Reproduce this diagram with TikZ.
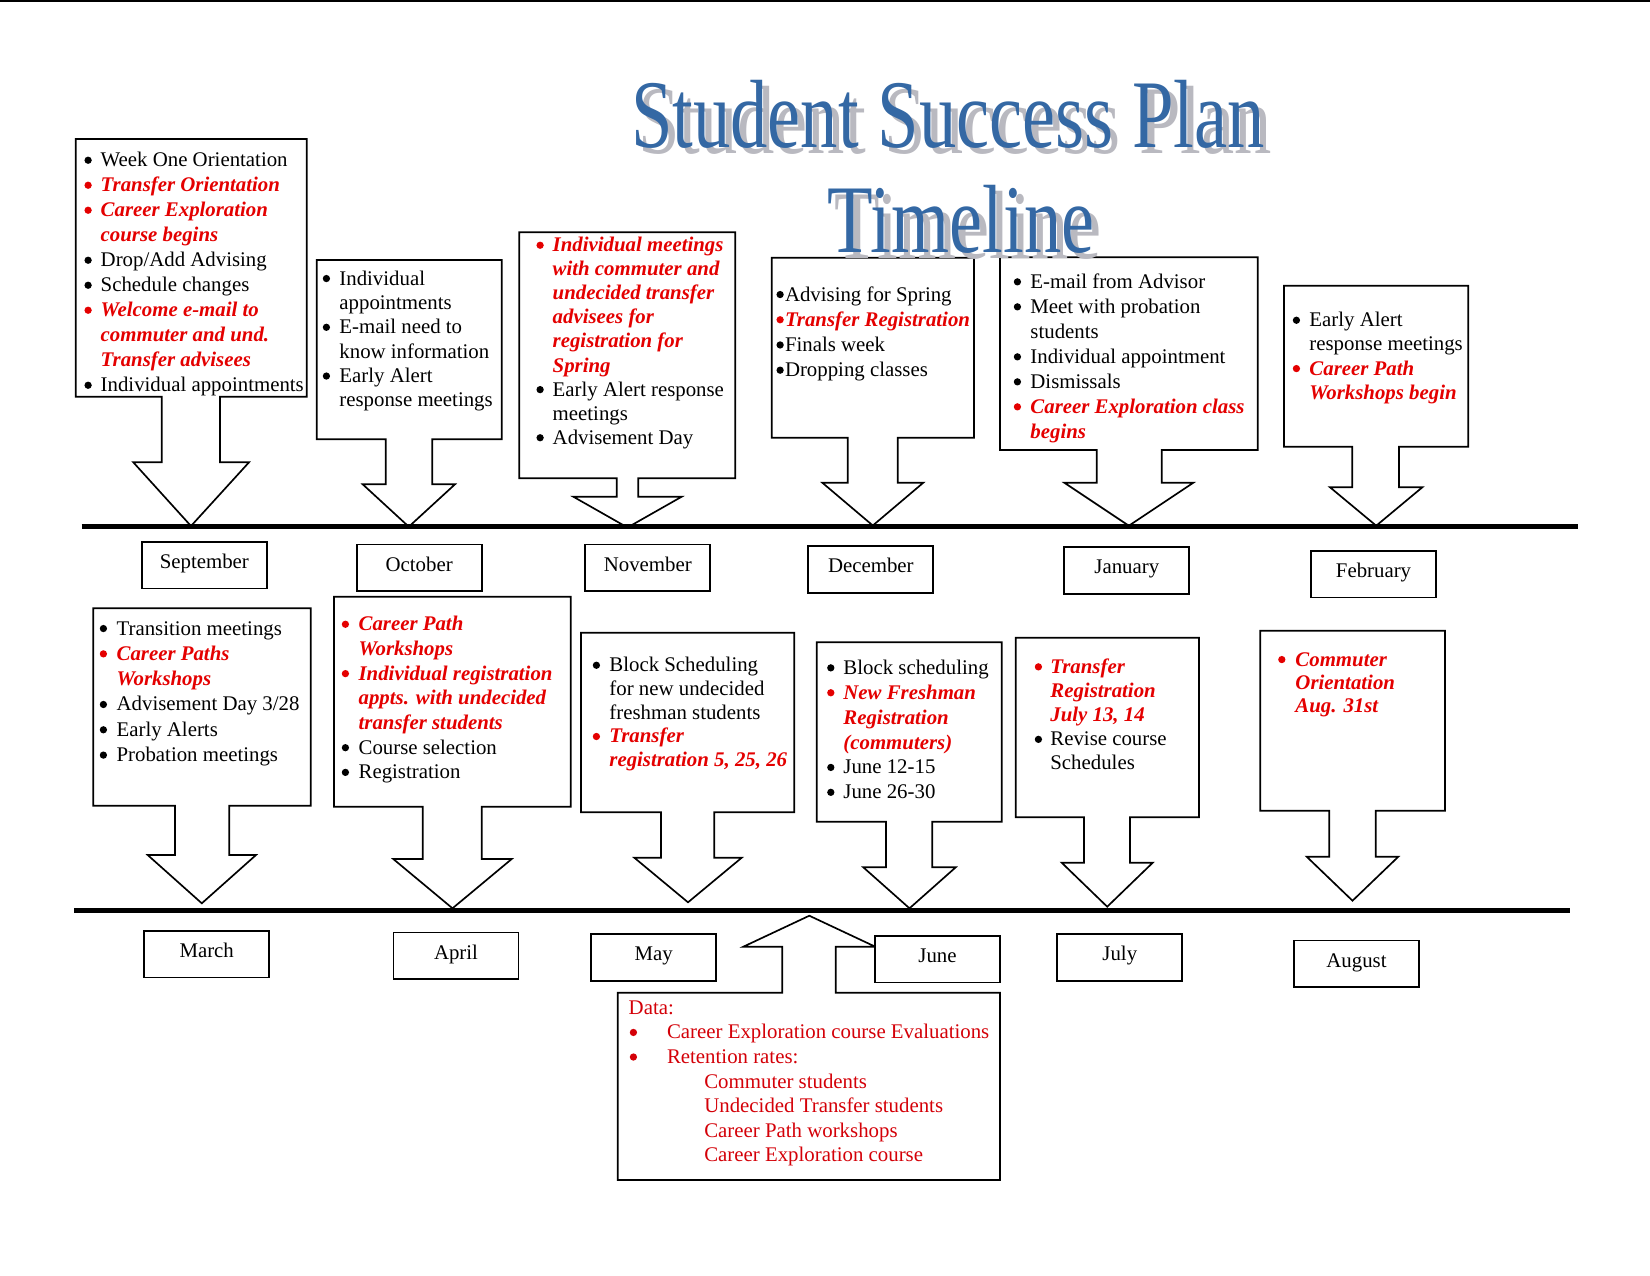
\documentclass[tikz,border=0pt]{standalone}
\usepackage{fontspec}
\setmainfont{Liberation Serif}
\usepackage{graphicx}
\definecolor{rd}{RGB}{228,0,0}
\definecolor{rdd}{RGB}{212,0,8}
\definecolor{ttlblue}{RGB}{52,104,164}
\definecolor{ttlshadow}{RGB}{185,185,192}
\newlength\hw
\newcommand\bul[1][black]{\hspace*{0.5pt}\tikz[baseline=0pt]\fill[#1] (1.75pt,3.1pt) circle[radius=1.75pt];}
\newcommand\R[1]{\textcolor{rd}{\bfseries\itshape #1}}
\newcommand\B[1]{\makebox[\hw][l]{\bul}#1}
\newcommand\RB[1]{\makebox[\hw][l]{\bul[rd]}\R{#1}}
\newcommand\DB[1]{\makebox[\hw][l]{\bul[rdd]}#1}
\newcommand\C[1]{\hspace*{\hw}#1}
\newcommand\RC[1]{\hspace*{\hw}\R{#1}}
\newcommand\tb[2]{\setlength\hw{#1}\begin{tabular}[t]{@{}l@{}}#2\end{tabular}}
\tikzset{
 callout/.style={draw=black,line width=0.8pt,fill=white,line join=miter},
 bodytext/.style={anchor=base west,inner sep=0pt,font=\fontsize{10}{#1}\selectfont},
 monthbox/.style={draw=black,line width=0.8pt,fill=white,inner sep=0pt,minimum width=60pt,minimum height=22.3pt,text height=7pt,text depth=3.8pt,font=\fontsize{10}{12}\selectfont},
 timeline/.style={line width=2.25pt},
 titletext/.style={anchor=base,inner sep=0pt,font=\fontsize{35.8}{40}\selectfont},
}
\begin{document}
\begin{tikzpicture}[x=0.48pt,y=-0.48pt]
\useasboundingbox (0,0) rectangle (1650,1275);
\fill[white] (0,0) rectangle (1650,1275);
% top frame line
\coordinate (fa) at (0,1); \coordinate (fb) at (1650,1);
\draw[line width=0.9pt] (fa) -- (fb);

% ---- top callouts
\draw[callout] (75.7,139) -- (306.7,139) -- (306.7,396.7) -- (220,396.7) -- (220,462.3) -- (249,462.3) -- (191,526) -- (133.3,462.3) -- (161.7,462.3) -- (161.7,396.7) -- (75.7,396.7) -- cycle;
\draw[callout] (316.7,260) -- (501.7,260) -- (501.7,439.3) -- (432.3,439.3) -- (432.3,484.3) -- (455,484.3) -- (408.8,526.7) -- (362.7,484.3) -- (385.7,484.3) -- (385.7,439.3) -- (316.7,439.3) -- cycle;
\draw[callout] (519.3,232.3) -- (735.3,232.3) -- (735.3,478.3) -- (638.3,478.3) -- (638.3,496.7) -- (681.7,496.7) -- (627.5,527.5) -- (573.3,496.7) -- (616.7,496.7) -- (616.7,478.3) -- (519.3,478.3) -- cycle;
\draw[callout] (771.7,257.7) -- (974,257.7) -- (974,437.7) -- (897.7,437.7) -- (897.7,482.7) -- (923.3,482.7) -- (872.8,525.5) -- (822.3,482.7) -- (847.7,482.7) -- (847.7,437.7) -- (771.7,437.7) -- cycle;
\draw[callout] (1000,257.3) -- (1257.7,257.3) -- (1257.7,450) -- (1161.7,450) -- (1161.7,482.7) -- (1193.3,482.7) -- (1128.8,525.7) -- (1064.3,482.7) -- (1096.7,482.7) -- (1096.7,450) -- (1000,450) -- cycle;
\draw[callout] (1284,285.7) -- (1468.3,285.7) -- (1468.3,446.7) -- (1399,446.7) -- (1399,487.3) -- (1422.3,487.3) -- (1376.2,525.7) -- (1330,487.3) -- (1352.3,487.3) -- (1352.3,446.7) -- (1284,446.7) -- cycle;

% ---- bottom callouts
\draw[callout] (93.3,608.3) -- (310.7,608.3) -- (310.7,805.7) -- (229.3,805.7) -- (229.3,855) -- (256,855) -- (201.8,903.3) -- (147.7,855) -- (175,855) -- (175,805.7) -- (93.3,805.7) -- cycle;
\draw[callout] (334,596.7) -- (570.7,596.7) -- (570.7,806.7) -- (481.7,806.7) -- (481.7,859) -- (511.7,859) -- (452.5,908.3) -- (393.3,859) -- (422.7,859) -- (422.7,806.7) -- (334,806.7) -- cycle;
\draw[callout] (581,632.7) -- (794.3,632.7) -- (794.3,812.3) -- (714.3,812.3) -- (714.3,857.7) -- (741.7,857.7) -- (688,902.3) -- (634.3,857.7) -- (661,857.7) -- (661,812.3) -- (581,812.3) -- cycle;
\draw[callout] (816.7,642.3) -- (1001.7,642.3) -- (1001.7,821.7) -- (932.3,821.7) -- (932.3,867.3) -- (955.7,867.3) -- (909.5,908.3) -- (863.3,867.3) -- (886,867.3) -- (886,821.7) -- (816.7,821.7) -- cycle;
\draw[callout] (1015.7,637.7) -- (1199,637.7) -- (1199,817.3) -- (1130,817.3) -- (1130,862.7) -- (1152.7,862.7) -- (1107.2,906.7) -- (1061.7,862.7) -- (1084,862.7) -- (1084,817.3) -- (1015.7,817.3) -- cycle;
\draw[callout] (1260.3,630.7) -- (1445,630.7) -- (1445,810.7) -- (1375.7,810.7) -- (1375.7,856.7) -- (1398.3,856.7) -- (1352.5,900.7) -- (1306.7,856.7) -- (1329.3,856.7) -- (1329.3,810.7) -- (1260.3,810.7) -- cycle;

% ---- data callout (upward)
\draw[callout] (617.7,992.7) -- (782.3,992.7) -- (782.3,946.7) -- (743.3,946.7) -- (809.3,915.7) -- (875.3,946.7) -- (835.7,946.7) -- (835.7,992.7) -- (1000,992.7) -- (1000,1180) -- (617.7,1180) -- cycle;

% ---- timelines
\coordinate (tla) at (81.7,526.7); \coordinate (tlb) at (1578,526.7);
\draw[timeline] (tla) -- (tlb);
\coordinate (tlc) at (74,910.7); \coordinate (tld) at (1570,910.7);
\draw[timeline] (tlc) -- (tld);

% ---- month labels
\node[monthbox] (sep) at (204.3,565.2) {September};
\node[monthbox] (oct) at (419.2,567.8) {October};
\node[monthbox] (nov) at (647.8,567.8) {November};
\node[monthbox] (dec) at (870.8,569.5) {December};
\node[monthbox] (jan) at (1126.8,570.5) {January};
\node[monthbox] (feb) at (1373.5,574.2) {February};
\node[monthbox] (mar) at (206.7,954.3) {March};
\node[monthbox] (apr) at (456,955.8) {April};
\node[monthbox] (may) at (653.8,957.5) {May};
\node[monthbox] (jun) at (937.5,959.2) {June};
\node[monthbox] (jul) at (1119.8,957.5) {July};
\node[monthbox] (aug) at (1356.5,963.7) {August};

% ---- box texts
\node[bodytext=12pt] (septxt) at (83,166.7) {\tb{8.3pt}{%
\B{Week One Orientation}\\
\RB{Transfer Orientation}\\
\RB{Career Exploration}\\
\RC{course begins}\\
\B{Drop/Add Advising}\\
\B{Schedule changes}\\
\RB{Welcome e-mail to}\\
\RC{commuter and und.}\\
\RC{Transfer advisees}\\
\B{Individual appointments}}};

\node[bodytext=11.7pt] (octtxt) at (321.3,285) {\tb{8.5pt}{%
\B{Individual}\\
\C{appointments}\\
\B{E-mail need to}\\
\C{know information}\\
\B{Early Alert}\\
\C{response meetings}}};

\node[bodytext=11.55pt] (novtxt) at (535,251.7) {\tb{8.3pt}{%
\RB{Individual meetings}\\
\RC{with commuter and}\\
\RC{undecided transfer}\\
\RC{advisees for}\\
\RC{registration for}\\
\RC{Spring}\\
\B{Early Alert response}\\
\C{meetings}\\
\B{Advisement Day}}};

\node[bodytext=12.1pt] (dectxt) at (775,301) {\begin{tabular}[t]{@{}l@{}}%
\bul\hspace{0.6pt}Advising for Spring\\
\bul[rd]\hspace{0.6pt}\R{Transfer Registration}\\
\bul\hspace{0.6pt}Finals week\\
\bul\hspace{0.6pt}Dropping classes\end{tabular}};

\node[bodytext=12pt] (jantxt) at (1012.3,288.3) {\tb{8.5pt}{%
\B{E-mail from Advisor}\\
\B{Meet with probation}\\
\C{students}\\
\B{Individual appointment}\\
\B{Dismissals}\\
\RB{Career Exploration class}\\
\RC{begins}}};

\node[bodytext=11.6pt] (febtxt) at (1291.3,326.7) {\tb{8.5pt}{%
\B{Early Alert}\\
\C{response meetings}\\
\RB{Career Path}\\
\RC{Workshops begin}}};

\node[bodytext=12.15pt] (martxt) at (98.3,635) {\tb{8.6pt}{%
\B{Transition meetings}\\
\RB{Career Paths}\\
\RC{Workshops}\\
\B{Advisement Day 3/28}\\
\B{Early Alerts}\\
\B{Probation meetings}}};

\node[bodytext=11.85pt] (aprtxt) at (340.3,630.7) {\tb{8.6pt}{%
\RB{Career Path}\\
\RC{Workshops}\\
\RB{Individual registration}\\
\RC{appts. with undecided}\\
\RC{transfer students}\\
\B{Course selection}\\
\B{Registration}}};

\node[bodytext=11.4pt] (maytxt) at (591.3,671.7) {\tb{8.5pt}{%
\B{Block Scheduling}\\
\C{for new undecided}\\
\C{freshman students}\\
\RB{Transfer}\\
\RC{registration 5, 25, 26}}};

\node[bodytext=11.95pt] (juntxt) at (825.7,674.3) {\tb{8.3pt}{%
\B{Block scheduling}\\
\RB{New Freshman}\\
\RC{Registration}\\
\RC{(commuters)}\\
\B{June 12-15}\\
\B{June 26-30}}};

\node[bodytext=11.6pt] (jultxt) at (1033.3,673.3) {\tb{8pt}{%
\RB{Transfer}\\
\RC{Registration}\\
\RC{July 13, 14}\\
\B{Revise course}\\
\C{Schedules}}};

\node[bodytext=11.1pt] (augtxt) at (1276.7,666) {\tb{8.8pt}{%
\RB{Commuter}\\
\RC{Orientation}\\
\RC{Aug. 31st}}};

\node[bodytext=11.8pt,text=rdd] (datatxt) at (628.3,1014.3) {\tb{18.4pt}{%
Data:\\
\DB{Career Exploration course Evaluations}\\
\DB{Retention rates:}\\
\hspace*{36.3pt}Commuter students\\
\hspace*{36.3pt}Undecided Transfer students\\
\hspace*{36.3pt}Career Path workshops\\
\hspace*{36.3pt}Career Exploration course}};

% ---- title
\node[titletext,text=ttlshadow] (title1s) at (955,153) {\scalebox{1}[1.3]{Student Success Plan}};
\node[titletext,text=ttlblue] (title1) at (948,147) {\scalebox{1}[1.3]{Student Success Plan}};
\node[titletext,text=ttlshadow] (title2s) at (968,258) {\scalebox{1}[1.3]{Timeline}};
\node[titletext,text=ttlblue] (title2) at (961,252) {\scalebox{1}[1.3]{Timeline}};
\end{tikzpicture}
\end{document}
